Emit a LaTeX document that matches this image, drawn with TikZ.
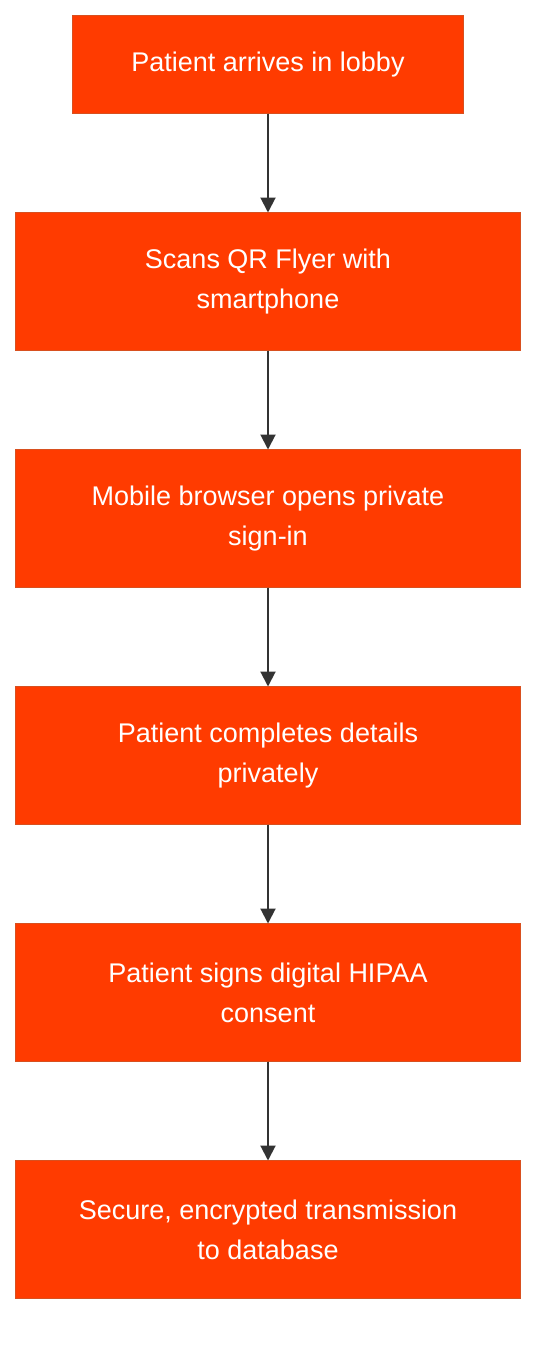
\documentclass[tikz,border=0pt]{standalone}
\usepackage{fontspec}
\setmainfont{Liberation Sans}
\usepackage{tikz}
\usetikzlibrary{positioning,arrows.meta}
\usepackage{xcolor}
\definecolor{boxfill}{HTML}{FF3B00}
\definecolor{boxline}{HTML}{D8501F}
\definecolor{arrowgray}{HTML}{333333}

\begin{document}
\begin{tikzpicture}[x=1pt, y=1pt, node distance={99pt},
            main/.style = {draw=boxline, line width=1pt, fill=boxfill, text=white, align=center, outer sep=0pt,
                minimum width=505pt, minimum height=138pt, font=\fontsize{27}{40}\selectfont},
            flow/.style = {-{Triangle[length=15pt,width=15pt]}, draw=arrowgray, fill=arrowgray, line width=2pt}]
            \useasboundingbox (0,0) rectangle (552,-1354);
            \node[main, minimum width=391pt, minimum height=98pt] (1) at (268,-64.5) {Patient arrives in lobby};
            \node[main] (2) [below=of 1] {Scans QR Flyer with\\smartphone};
            \node[main] (3) [below=of 2] {Mobile browser opens private\\sign-in};
            \node[main] (4) [below=of 3] {Patient completes details\\privately};
            \node[main] (5) [below=of 4] {Patient signs digital HIPAA\\consent};
            \node[main] (6) [below=of 5] {Secure, encrypted transmission\\to database};
            \draw[flow] (1) -- (2);
            \draw[flow] (2) -- (3);
            \draw[flow] (3) -- (4);
            \draw[flow] (4) -- (5);
            \draw[flow] (5) -- (6);
        \end{tikzpicture}
\end{document}
